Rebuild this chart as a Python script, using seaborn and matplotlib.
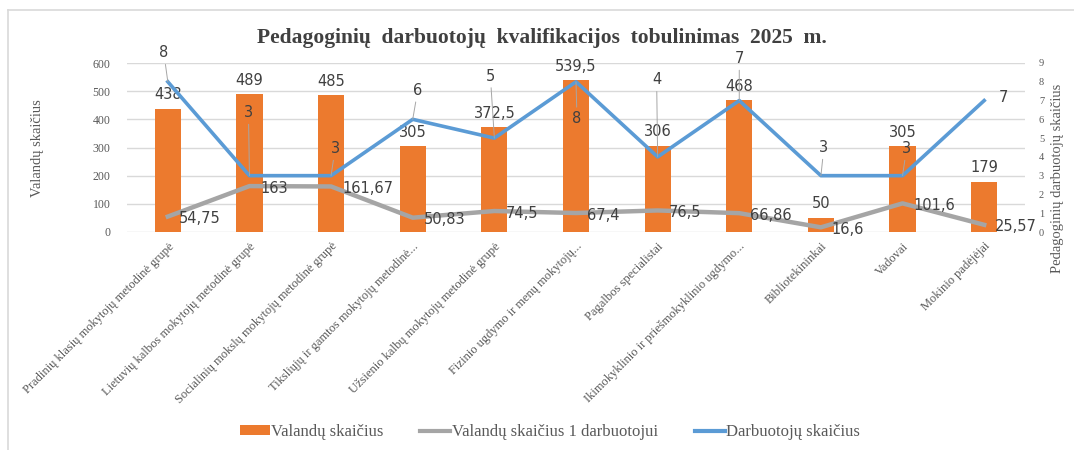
import matplotlib
matplotlib.use('Agg')
import matplotlib.pyplot as plt
import seaborn as sns
import pandas as pd
from matplotlib.patches import Patch
from matplotlib.lines import Line2D

categories = [
    "Pradinių klasių mokytojų metodinė grupė",
    "Lietuvių kalbos mokytojų metodinė grupė",
    "Socialinių mokslų mokytojų metodinė grupė",
    "Tiksliųjų ir gamtos mokytojų metodinė...",
    "Užsienio kalbų mokytojų metodinė grupė",
    "Fizinio ugdymo ir menų mokytojų...",
    "Pagalbos specialistai",
    "Ikimokyklinio ir priešmokyklinio ugdymo...",
    "Bibliotekininkai",
    "Vadovai",
    "Mokinio padėjėjai",
]
hours = [438, 489, 485, 305, 372.5, 539.5, 306, 468, 50, 305, 179]
hours_per_worker = [54.75, 163, 161.67, 50.83, 74.5, 67.4, 76.5, 66.86, 16.6, 101.6, 25.57]
workers = [8, 3, 3, 6, 5, 8, 4, 7, 3, 3, 7]

# label offsets for the worker count labels (pixels)
worker_offsets = [(-4, 29), (-1, 63), (4, 27), (5, 29), (-4, 62), (1, -37),
                  (-1, 77), (0, 42), (3, 28), (4, 27), (15, 3)]

df = pd.DataFrame({"cat": categories, "hours": hours,
                   "per": hours_per_worker, "workers": workers})

ORANGE = '#EC7A2E'
GRAY = '#A5A5A5'
BLUE = '#5B9BD5'
TXT = '#404040'
LBL = '#595959'
serif = 'Liberation Serif'


def fmt(v):
    s = ('%g' % v)
    return s.replace('.', ',')


fig = plt.figure(figsize=(10.74, 4.5), dpi=100)
ax = fig.add_axes([127 / 1074, 1 - 232 / 450, (1025 - 127) / 1074, (232 - 63) / 450])

sns.barplot(data=df, x="cat", y="hours", color=ORANGE, width=0.32,
            saturation=1, ax=ax, zorder=2)
sns.lineplot(data=df, x="cat", y="per", color=GRAY, lw=3.2, sort=False,
             ax=ax, zorder=3)
ax.set_ylim(0, 600)
ax.set_xlim(-0.5, 10.5)
ax.set_yticks(range(0, 601, 100))
ax.grid(axis='y', color='#D9D9D9', lw=1, zorder=0)
ax.set_axisbelow(True)
for s in ax.spines.values():
    s.set_visible(False)
ax.tick_params(length=0)
ax.set_xlabel('')
ax.set_ylabel('')
ax.set_xticks(range(len(categories)))
ax.set_xticklabels(categories, rotation=45, ha='right', rotation_mode='anchor',
                   family=serif, fontsize=9, color=LBL)
ax.tick_params(axis='x', pad=6)
for t in ax.get_yticklabels():
    t.set_family(serif)
    t.set_fontsize(8.5)
    t.set_color(LBL)
ax.tick_params(axis='y', pad=12)

ax2 = ax.twinx()
sns.lineplot(data=df, x="cat", y="workers", color=BLUE, lw=2.6, sort=False,
             ax=ax2, zorder=4)
ax2.set_ylim(0, 9)
ax2.set_yticks(range(0, 10))
for s in ax2.spines.values():
    s.set_visible(False)
ax2.tick_params(length=0, pad=10)
for t in ax2.get_yticklabels():
    t.set_family(serif)
    t.set_fontsize(7.5)
    t.set_color(LBL)
ax2.set_ylabel('')
ax2.set_xlabel('')

lab_kw = dict(textcoords='offset pixels', fontsize=10.5, color=TXT,
              family='DejaVu Sans')
for i, v in enumerate(hours):
    ax.annotate(fmt(v), (i, v), xytext=(0, 14), ha='center', va='center',
                zorder=6, **lab_kw)
for i, v in enumerate(hours_per_worker):
    ax.annotate(fmt(v), (i, v), xytext=(11, -2), ha='left', va='center',
                zorder=6, **lab_kw)
for i, v in enumerate(workers):
    dx, dy = worker_offsets[i]
    if i == len(workers) - 1:
        ax2.annotate(fmt(v), (i, v), xytext=(dx, dy), ha='left', va='center',
                     zorder=6, **lab_kw)
    else:
        ax2.annotate(fmt(v), (i, v), xytext=(dx, dy), ha='center', va='center',
                     arrowprops=dict(arrowstyle='-', color='#A6A6A6', lw=0.7,
                                     shrinkA=1, shrinkB=0),
                     zorder=6, **lab_kw)

fig.text(542 / 1074, 1 - 38 / 450,
         "Pedagoginių  darbuotojų  kvalifikacijos  tobulinimas  2025  m.",
         ha='center', va='center', family=serif, fontsize=15.5,
         fontweight='bold', color=TXT)
fig.text(37 / 1074, 1 - 148 / 450, "Valandų skaičius", rotation=90,
         ha='center', va='center', family=serif, fontsize=10.5, color=LBL)
fig.text(1057 / 1074, 1 - 178 / 450, "Pedagoginių darbuotojų skaičius",
         rotation=90, ha='center', va='center', family=serif, fontsize=10.5,
         color=LBL)

handles = [Patch(facecolor=ORANGE, edgecolor='none'),
           Line2D([], [], color=GRAY, lw=3),
           Line2D([], [], color=BLUE, lw=3)]
leg = fig.legend(handles, ["Valandų skaičius", "Valandų skaičius 1 darbuotojui",
                           "Darbuotojų skaičius"],
                 loc='center', bbox_to_anchor=(550 / 1074, 1 - 432 / 450),
                 ncol=3, frameon=False, handlelength=1.8, handleheight=0.55,
                 handletextpad=0.1, columnspacing=2.2,
                 prop={'family': serif, 'size': 12})
for t in leg.get_texts():
    t.set_color(LBL)

# outer chart border (top and left only visible)
fig.add_artist(Line2D([8 / 1074, 1], [1 - 10 / 450] * 2, color='#D9D9D9', lw=1.2))
fig.add_artist(Line2D([8 / 1074] * 2, [0, 1 - 10 / 450], color='#D9D9D9', lw=1.2))

fig.savefig('out.png', dpi=100)
